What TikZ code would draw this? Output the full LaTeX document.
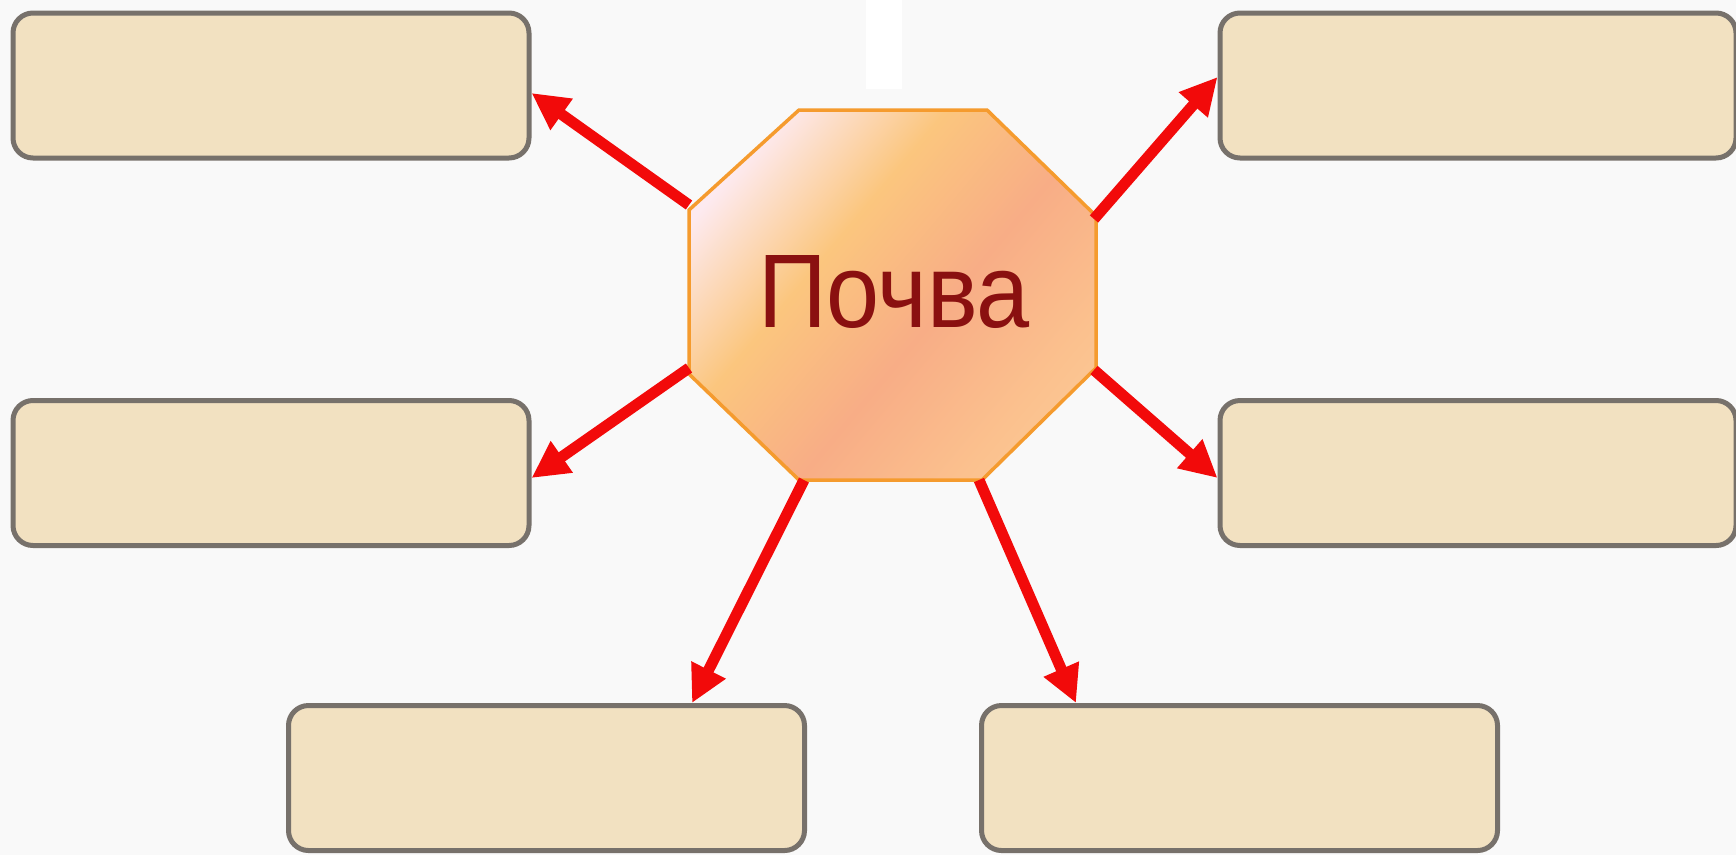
\documentclass[tikz,border=0pt]{standalone}
\usepackage{fontspec}
\usepackage{graphicx}
\setmainfont{Liberation Sans}
\usetikzlibrary{arrows.meta}
\definecolor{bgc}{HTML}{F9F9F9}
\definecolor{boxfill}{HTML}{F2E1C1}
\definecolor{boxline}{HTML}{77716B}
\definecolor{octline}{HTML}{F59B2E}
\definecolor{txtc}{HTML}{8A1010}
\definecolor{arrc}{HTML}{F20A0A}
\definecolor{oc1}{HTML}{FDEAF0}
\definecolor{oc2}{HTML}{FBC67E}
\definecolor{oc3}{HTML}{F8AD86}
\definecolor{oc4}{HTML}{FBC18E}
\definecolor{oc5}{HTML}{FCDAA8}
\pgfdeclarehorizontalshading{octo}{100bp}{color(0bp)=(oc1); color(24bp)=(oc1); color(40bp)=(oc2); color(56bp)=(oc3); color(72bp)=(oc4); color(100bp)=(oc5)}
\tikzset{
  box/.style={draw=boxline, line width=5pt, fill=boxfill, rounded corners=20pt, minimum width=516pt, minimum height=145pt, inner sep=0pt},
  conn/.style={draw=arrc, line width=11pt, -{Triangle[length=37pt, width=36pt]}},
  octo/.style={draw=octline, line width=3.5pt, shading=octo, shading angle=-40}
}
\begin{document}
\begin{tikzpicture}[x=1pt,y=-1pt]
\useasboundingbox (0,0) rectangle (1736,855);
\fill[bgc] (0,0) rectangle (1736,855);
\fill[white] (866,0) rectangle (902,89);
% octagon
\path[octo] (799,110) -- (987,110) -- (1096,216) -- (1096,368) -- (982,480) -- (799,480) -- (689,374) -- (689,210) -- cycle;
\node[text=txtc, font=\fontsize{96}{110}\selectfont, inner sep=0pt, anchor=base] (soil) at (894,327) {\resizebox{272pt}{72pt}{Почва}};
% boxes
\node[box] (tl) at (271,85.5) {};
\node[box] (ml) at (271,473) {};
\node[box] (tr) at (1478,85.5) {};
\node[box] (mr) at (1478,473) {};
\node[box] (bl) at (546.5,778) {};
\node[box] (br) at (1239.5,778) {};
% arrow starts on octagon
\coordinate (a1) at (689,205);
\coordinate (a2) at (1094,219);
\coordinate (a3) at (689,368);
\coordinate (a4) at (1094,370);
\coordinate (a5) at (804,480);
\coordinate (a6) at (979,480);
\draw[conn] (a1) -- ([yshift=-7.5pt]tl.east);
\draw[conn] (a2) -- ([yshift=8.5pt]tr.west);
\draw[conn] (a3) -- ([yshift=-5pt]ml.east);
\draw[conn] (a4) -- ([yshift=-5pt]mr.west);
\draw[conn] (a5) -- ([xshift=145.5pt]bl.north);
\draw[conn] (a6) -- ([xshift=-163.5pt]br.north);
\end{tikzpicture}
\end{document}
